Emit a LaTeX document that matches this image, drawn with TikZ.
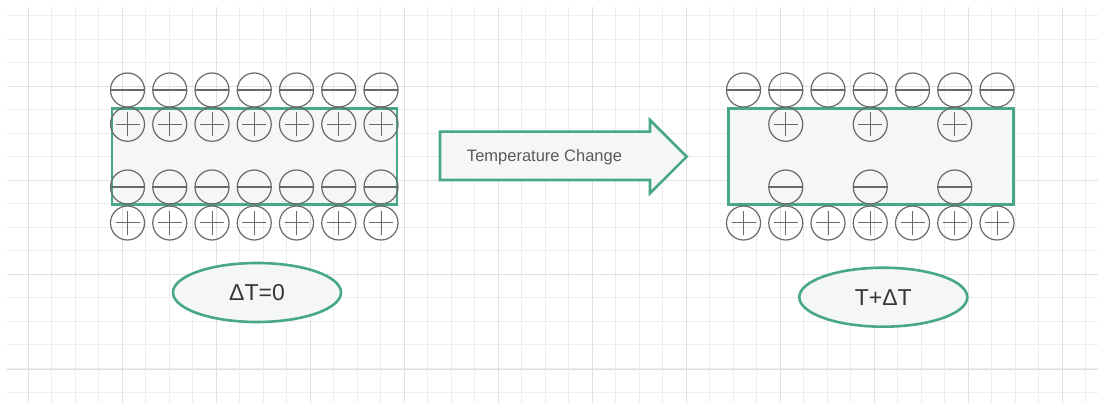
\documentclass[tikz,border=0pt]{standalone}
\usepackage{fontspec}
\setmainfont{Liberation Sans}
\usetikzlibrary{shapes,positioning}
\definecolor{tealline}{RGB}{72,168,134}
\definecolor{panelfill}{RGB}{245,247,247}
\definecolor{ionline}{RGB}{105,105,105}
\definecolor{textdark}{RGB}{55,55,55}
\definecolor{textgrey}{RGB}{90,90,90}
\definecolor{gridminor}{RGB}{237,237,237}
\definecolor{gridmajor}{RGB}{224,224,224}
\tikzstyle{layer} = [
	draw=tealline,
	line width=2.6pt,
	fill=panelfill,
	minimum width=285pt,
	minimum height=96pt,
	inner sep=0pt
]
\tikzstyle{ion} = [circle, draw=ionline, line width=1.2pt, minimum size=34pt, inner sep=0pt]
\tikzstyle{anion} = [ion, path picture={\draw[ionline, line width=1.1pt] (path picture bounding box.west) -- (path picture bounding box.east);}]
\tikzstyle{cation} = [ion, path picture={\draw[ionline, line width=1pt] ([xshift=-12pt]path picture bounding box.center) -- ([xshift=12pt]path picture bounding box.center) ([yshift=-12pt]path picture bounding box.center) -- ([yshift=12pt]path picture bounding box.center);}]
\tikzstyle{tempnode} = [
	ellipse,
	draw=tealline,
	line width=2.6pt,
	fill=panelfill,
	minimum width=168pt,
	minimum height=59pt,
	text=textdark,
	font=\fontsize{23}{27}\selectfont
]
\tikzstyle{gridline} = [gridminor, line width=1pt]

\begin{document}
\begin{tikzpicture}[x=1pt, y=-1pt, auto, >=latex]
	\useasboundingbox[fill=white] (0,0) rectangle (1098,403);
	% background grid
	\foreach \gx in {1,...,46} \draw[gridline] ({4.5+23.5*\gx},7) -- ({4.5+23.5*\gx},403);
	\foreach \gy in {0,...,16} \draw[gridline] (7,{16+23.5*\gy}) -- (1098,{16+23.5*\gy});
	\foreach \gx in {0,...,11} \draw[gridline, gridmajor] ({28+94*\gx},7) -- ({28+94*\gx},403);
	\foreach \gy in {0,...,3} \draw[gridline, gridmajor] (7,{87+94*\gy}) -- (1098,{87+94*\gy});

	% before: Delta T = 0
	\node[layer] (layerL) at (254.4,156.3) {};
	\foreach \i in {0,...,6} {
		\node[anion] (lt\i) at ({127.5+42.25*\i},90) {};
		\node[cation] (lp\i) at ({127.5+42.25*\i},124.3) {};
		\node[anion] (lm\i) at ({127.5+42.25*\i},187) {};
		\node[cation] (lb\i) at ({127.5+42.25*\i},223) {};
	}
	\node[tempnode] (tempL) at (257,292.5) {ΔT=0};

	% temperature change arrow
	\draw[tealline, line width=2.6pt, fill=panelfill, line join=miter]
		(440,131.7) -- (650,131.7) -- (650,120) -- (686.7,156.7) -- (650,193.3) -- (650,180) -- (440,180) -- cycle;
	\node[text=textgrey, font=\fontsize{16.5}{19}\selectfont] (change) at (544.5,157) {Temperature Change};

	% after: T + Delta T
	\node[layer] (layerR) at (871.2,156.3) {};
	\foreach \i in {0,...,6} {
		\node[anion] (rt\i) at ({743.5+42.25*\i},90) {};
		\node[cation] (rb\i) at ({743.5+42.25*\i},223) {};
	}
	\foreach \i in {1,3,5} {
		\node[cation] (rp\i) at ({743.5+42.25*\i},124.3) {};
		\node[anion] (rm\i) at ({743.5+42.25*\i},187) {};
	}
	\node[tempnode] (tempR) at (883.3,297.2) {T+ΔT};
\end{tikzpicture}
\end{document}
